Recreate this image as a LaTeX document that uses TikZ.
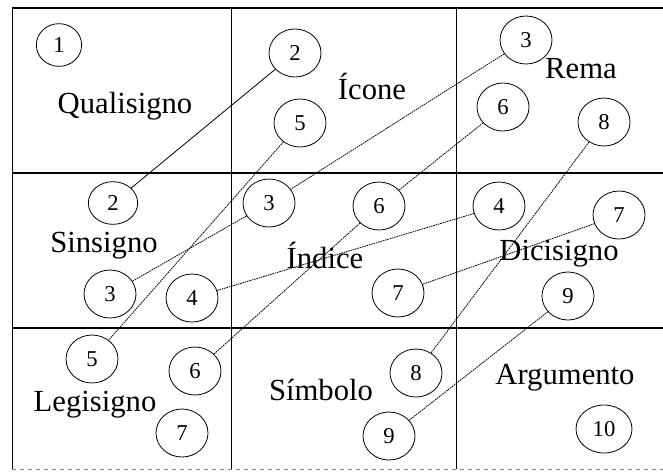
\documentclass[tikz,border=0pt]{standalone}
\usepackage{fontspec}
\setmainfont{Liberation Serif}
\usetikzlibrary{shapes.geometric}
\begin{document}
\begin{tikzpicture}[x=0.75pt,y=-0.75pt,
  num/.style={draw, ellipse, inner sep=0pt, minimum width=39pt, minimum height=36pt, line width=0.6pt, font=\fontsize{17}{20}\selectfont},
  lbl/.style={font=\fontsize{23}{27}\selectfont, inner sep=0pt, anchor=base},
  hline/.style={line width=1pt},
  vline/.style={line width=0.5pt},
  dline/.style={line width=0.6pt, dash pattern=on 1.2pt off 0.6pt},
  sline/.style={line width=0.6pt}]
\useasboundingbox (0,0) rectangle (663,472);
% grid
\draw[hline] (12,8) -- (663,8);
\draw[hline] (12,173) -- (663,173);
\draw[hline] (12,328) -- (663,328);
\draw[vline, dashed, gray] (12,469) -- (663,469);
\draw[vline] (12,8) -- (12,469);
\draw[vline] (231,8) -- (231,469);
\draw[vline] (456,8) -- (456,469);
% labels
\node[lbl] (qual) at (125,113) {Qualisigno};
\node[lbl] (icone) at (372,99) {Ícone};
\node[lbl] (rema) at (581,78) {Rema};
\node[lbl] (sins) at (104,252) {Sinsigno};
\node[lbl] (indice) at (325,268) {Índice};
\node[lbl] (dici) at (559,260) {Dicisigno};
\node[lbl] (legi) at (95,411) {Legisigno};
\node[lbl] (simb) at (321,400) {Símbolo};
\node[lbl] (argu) at (565,384) {Argumento};
% numbered circles
\node[num, minimum width=34pt, minimum height=32pt] (n1) at (59,45) {1};
\node[num] (n2a) at (295,53) {2};
\node[num] (n5a) at (300,123) {5};
\node[num] (n3a) at (526,40) {3};
\node[num] (n6a) at (503,107) {6};
\node[num] (n8a) at (604,122) {8};
\node[num, minimum width=37pt, minimum height=32pt] (n2b) at (113,203) {2};
\node[num] (n3b) at (269,203) {3};
\node[num] (n6b) at (379,206) {6};
\node[num] (n4a) at (499,206) {4};
\node[num] (n7a) at (619,215) {7};
\node[num] (n3c) at (110,294) {3};
\node[num] (n4b) at (192,298) {4};
\node[num] (n7b) at (398,293) {7};
\node[num] (n9a) at (568,296) {9};
\node[num] (n5b) at (92,359) {5};
\node[num] (n6c) at (195,371) {6};
\node[num] (n7c) at (182,433) {7};
\node[num] (n8b) at (416,373) {8};
\node[num] (n9b) at (389,436) {9};
\node[num, minimum width=42pt] (n10) at (604,429) {10};
% connectors
\draw[sline] (n2a) -- (n2b);
\draw[dline] (n3a) -- (n3b);
\draw[dline] (n3b) -- (n3c);
\draw[dline] (n5a) -- (n5b);
\draw[dline] (n6a) -- (n6b);
\draw[dline] (n6b) -- (n6c);
\draw[dline] (n4a) -- (n4b);
\draw[dline] (n7a) -- (n7b);
\draw[dline] (n8a) -- (n8b);
\draw[dline] (n9a) -- (n9b);
\end{tikzpicture}
\end{document}
